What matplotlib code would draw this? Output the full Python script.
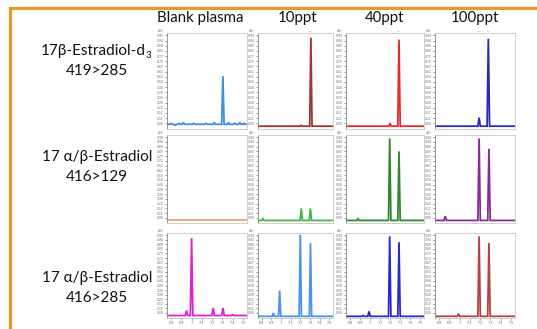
import matplotlib
matplotlib.use("Agg")
import matplotlib.pyplot as plt
from matplotlib.patches import Rectangle
import numpy as np

# ---------------- data ----------------
col_titles = ["Blank plasma", "10ppt", "40ppt", "100ppt"]
row_names = ["17β-Estradiol-d", "17 α/β-Estradiol", "17 α/β-Estradiol"]
row_subs = ["3", "", ""]
row_transitions = ["419>285", "416>129", "416>285"]

x_ticks = [6.8, 6.9, 7.0, 7.1, 7.2, 7.3, 7.4, 7.5]
x_ticklabels = ["6.8", "6.9", "7", "7.1", "7.2", "7.3", "7.4", "7.5"]

# row 1: 419>285 (internal standard)
d3_blank_t = [6.80, 6.84, 6.88, 6.92, 6.97, 7.02, 7.08, 7.14, 7.22, 7.305, 7.36, 7.42, 7.47, 7.51]
d3_blank_h = [0.06, 0.04, 0.06, 0.07, 0.05, 0.06, 0.05, 0.06, 0.07, 0.56, 0.07, 0.06, 0.07, 0.06]
d3_10_t = [7.21, 7.31]
d3_10_h = [0.04, 0.97]
d3_40_t = [7.20, 7.29]
d3_40_h = [0.06, 0.95]
d3_100_t = [6.85, 7.19, 7.28]
d3_100_h = [0.03, 0.12, 0.96]

# row 2: 416>129
e129_blank_t = []
e129_blank_h = []
e129_10_t = [6.81, 7.21, 7.305]
e129_10_h = [0.05, 0.17, 0.17]
e129_40_t = [6.88, 7.197, 7.29]
e129_40_h = [0.05, 0.98, 0.83]
e129_100_t = [6.86, 7.19, 7.286]
e129_100_h = [0.08, 0.98, 0.86]

# row 3: 416>285
e285_blank_t = [6.95, 7.0, 7.21, 7.306, 7.40]
e285_blank_h = [0.09, 0.96, 0.12, 0.12, 0.04]
e285_10_t = [6.92, 6.985, 7.20, 7.306]
e285_10_h = [0.06, 0.33, 1.0, 0.90]
e285_40_t = [6.93, 6.99, 7.197, 7.29]
e285_40_h = [0.03, 0.08, 0.98, 0.91]
e285_100_t = [6.99, 7.19, 7.286]
e285_100_h = [0.05, 0.98, 0.90]

baselines = [[0.05, 0.03, 0.03, 0.03],
             [0.03, 0.03, 0.03, 0.03],
             [0.03, 0.02, 0.02, 0.02]]

panels = [
    [(d3_blank_t, d3_blank_h), (d3_10_t, d3_10_h), (d3_40_t, d3_40_h), (d3_100_t, d3_100_h)],
    [(e129_blank_t, e129_blank_h), (e129_10_t, e129_10_h), (e129_40_t, e129_40_h), (e129_100_t, e129_100_h)],
    [(e285_blank_t, e285_blank_h), (e285_10_t, e285_10_h), (e285_40_t, e285_40_h), (e285_100_t, e285_100_h)],
]

colors = [["#3d8fe0", "#a83232", "#e8282c", "#2a2ab8"],
          ["#e8a878", "#46b846", "#2e8a2e", "#8a2a9a"],
          ["#e020d8", "#4a94e8", "#2a2acc", "#b84040"]]

# ---------------- layout ----------------
W, H = 537, 329
fig = plt.figure(figsize=(W / 100, H / 100), dpi=100)
fam = ["Lato", "DejaVu Sans"]

col_x = [(167, 247), (258, 333), (346, 424), (435, 515)]
row_y = [(33, 129), (135, 223), (233, 318)]
xlim = (6.76, 7.54)
half_w = 0.012

def fx(px):
    return px / W

def fy(py):
    return 1 - py / H

# orange frame
fig.add_artist(Rectangle((fx(9.5), fy(340)), fx(600), fy(7.5) - fy(340),
                         transform=fig.transFigure, fill=False,
                         edgecolor="#E69A28", linewidth=2.3, clip_on=False))

for r in range(3):
    for c in range(4):
        x0, x1 = col_x[c]
        y0, y1 = row_y[r]
        ax = fig.add_axes([fx(x0), fy(y1), fx(x1 - x0), fy(y0) - fy(y1)])
        ts, hs = panels[r][c]
        b = baselines[r][c]
        xs = [xlim[0]]
        ys = [b]
        for t, h in sorted(zip(ts, hs)):
            xs += [t - half_w, t, t + half_w]
            ys += [b, h, b]
        xs.append(xlim[1])
        ys.append(b)
        ax.plot(xs, ys, color=colors[r][c], lw=1.3, solid_joinstyle="miter")
        ax.set_xlim(*xlim)
        ax.set_ylim(0.0, 1.02)
        yt = np.arange(0.06, 1.0, 0.055)
        ax.set_yticks(yt)
        ax.set_yticklabels([f"{v:.2f}" for v in yt], fontsize=2.2, color="#666666")
        ax.tick_params(axis="y", length=1.5, width=0.4, pad=0.8, color="#444444")
        ax.set_xticks(x_ticks)
        if r == 2:
            ax.set_xticklabels(x_ticklabels, fontsize=2.4, color="#666666")
            ax.tick_params(axis="x", length=1.2, width=0.4, pad=0.8, color="#666666")
        else:
            ax.tick_params(axis="x", length=0, labelbottom=False)
        for s in ["top", "right", "bottom"]:
            ax.spines[s].set_color("#c8c8c8")
            ax.spines[s].set_linewidth(0.6)
        ax.spines["left"].set_color("#888888")
        ax.spines["left"].set_linewidth(0.6)
        ax.text(-0.04, 1.0, "x10⁷", transform=ax.transAxes, fontsize=2.0,
                color="#666666", ha="right", va="bottom")
        if c > 0 and r == 0:
            for t, h in zip(ts, hs):
                if h > 0.1:
                    ax.text(t, 1.03, "7.2", fontsize=1.6, color="#777777",
                            ha="center", va="bottom")

# column titles
for c, title in enumerate(col_titles):
    x0, x1 = col_x[c]
    cx = (x0 + x1) / 2
    if c == 0:
        cx = 200
    fig.text(fx(cx + (2 if c == 1 else 0)), fy(18), title, fontsize=10.8,
             family=fam, ha="center", va="center", color="#111111")

# row labels
row_cy = [(51, 71), (157, 177), (278, 298)]
for r in range(3):
    cy1, cy2 = row_cy[r]
    if row_subs[r]:
        fig.text(fx(146), fy(cy1), row_names[r], fontsize=11, family=fam,
                 ha="right", va="center", color="#111111")
        fig.text(fx(145.2), fy(cy1 + 4), row_subs[r], fontsize=7, family=fam,
                 ha="left", va="center", color="#111111")
    else:
        fig.text(fx(97), fy(cy1), row_names[r], fontsize=11, family=fam,
                 ha="center", va="center", color="#111111")
    fig.text(fx(97), fy(cy2), row_transitions[r], fontsize=11, family=fam,
             ha="center", va="center", color="#111111")

fig.savefig("out.png", dpi=100)
